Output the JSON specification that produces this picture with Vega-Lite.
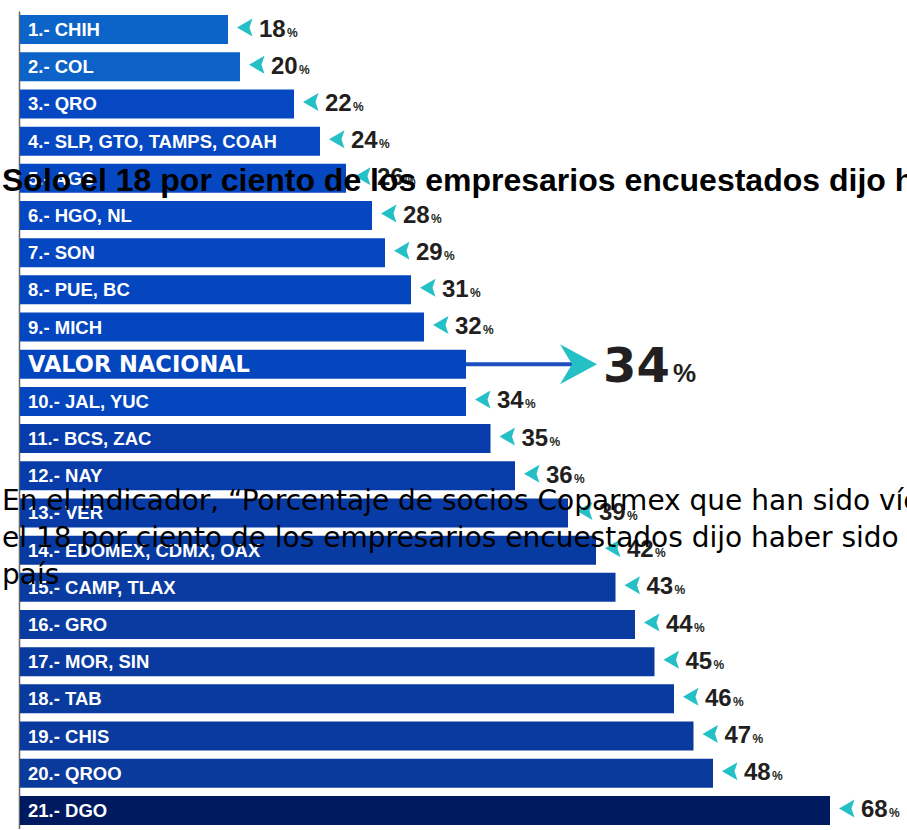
{
  "$schema": "https://vega.github.io/schema/vega-lite/v6.json",
  "width": 887,
  "height": 818,
  "autosize": "none",
  "padding": {"left": 20, "top": 11, "right": 0, "bottom": 0},
  "background": "#ffffff",
  "config": {"view": {"stroke": null}},
  "data": {
    "values": [
      {"etiqueta": "1.- CHIH", "valor": 18, "tipo": "estado"},
      {"etiqueta": "2.- COL", "valor": 20, "tipo": "estado"},
      {"etiqueta": "3.- QRO", "valor": 22, "tipo": "estado"},
      {"etiqueta": "4.- SLP, GTO, TAMPS, COAH", "valor": 24, "tipo": "estado"},
      {"etiqueta": "5.- AGS", "valor": 26, "tipo": "estado", "titulo": "Solo el 18 por ciento de los empresarios encuestados dijo haber sido"},
      {"etiqueta": "6.- HGO, NL", "valor": 28, "tipo": "estado"},
      {"etiqueta": "7.- SON", "valor": 29, "tipo": "estado"},
      {"etiqueta": "8.- PUE, BC", "valor": 31, "tipo": "estado"},
      {"etiqueta": "9.- MICH", "valor": 32, "tipo": "estado"},
      {"etiqueta": "VALOR NACIONAL", "valor": 34, "tipo": "nacional"},
      {"etiqueta": "10.- JAL, YUC", "valor": 34, "tipo": "estado"},
      {"etiqueta": "11.- BCS, ZAC", "valor": 35, "tipo": "estado"},
      {"etiqueta": "12.- NAY", "valor": 36, "tipo": "estado"},
      {"etiqueta": "13.- VER", "valor": 39, "tipo": "estado", "parrafo": "En el indicador, “Porcentaje de socios Coparmex que han sido víctimas"},
      {"etiqueta": "14.- EDOMEX, CDMX, OAX", "valor": 42, "tipo": "estado", "parrafo": "el 18 por ciento de los empresarios encuestados dijo haber sido"},
      {"etiqueta": "15.- CAMP, TLAX", "valor": 43, "tipo": "estado", "parrafo": "país"},
      {"etiqueta": "16.- GRO", "valor": 44, "tipo": "estado"},
      {"etiqueta": "17.- MOR, SIN", "valor": 45, "tipo": "estado"},
      {"etiqueta": "18.- TAB", "valor": 46, "tipo": "estado"},
      {"etiqueta": "19.- CHIS", "valor": 47, "tipo": "estado"},
      {"etiqueta": "20.- QROO", "valor": 48, "tipo": "estado"},
      {"etiqueta": "21.- DGO", "valor": 68, "tipo": "estado"}
    ]
  },
  "encoding": {
    "y": {
      "field": "etiqueta",
      "type": "nominal",
      "sort": null,
      "scale": {"paddingInner": 0.22, "paddingOuter": 0.11},
      "axis": {"title": null, "labels": false, "ticks": false, "domain": true, "domainColor": "#666666", "domainWidth": 1.5, "offset": 1, "grid": false}
    }
  },
  "layer": [
    {
      "mark": {"type": "bar"},
      "encoding": {
        "x": {
          "field": "valor",
          "type": "quantitative",
          "scale": {
            "domain": [0, 18, 20, 22, 32, 34, 36, 39, 42, 48, 68],
            "range": [0, 208, 220, 274, 404, 446, 495, 548, 576, 693, 810],
            "nice": false,
            "zero": false
          },
          "axis": null
        },
        "color": {
          "field": "valor",
          "type": "quantitative",
          "scale": {
            "domain": [18, 20, 22, 34, 35, 48, 68],
            "range": ["#0c64c8", "#0c62c6", "#0548c2", "#0446be", "#073caa", "#0a3a9c", "#001a60"]
          },
          "legend": null
        }
      }
    },
    {
      "transform": [{"filter": "datum.tipo == 'estado'"}],
      "mark": {"type": "text", "align": "left", "baseline": "alphabetic", "dx": 8, "dy": 6.5, "font": "Liberation Sans", "fontWeight": "bold", "fontSize": 18.5, "color": "#ffffff"},
      "encoding": {"x": {"datum": 0, "type": "quantitative"}, "text": {"field": "etiqueta"}}
    },
    {
      "transform": [{"filter": "datum.tipo == 'nacional'"}],
      "mark": {"type": "text", "align": "left", "baseline": "alphabetic", "dx": 8, "dy": 8, "font": "DejaVu Sans", "fontWeight": "bold", "fontSize": 22.5, "color": "#ffffff"},
      "encoding": {"x": {"datum": 0, "type": "quantitative"}, "text": {"field": "etiqueta"}}
    },
    {
      "transform": [{"filter": "datum.tipo == 'estado'"}],
      "mark": {"type": "point", "filled": true, "opacity": 1, "size": 100, "strokeWidth": 0, "color": "#25c0c6", "shape": "M 4.9,-2.2 L 1.8,-0.4 L 4.9,1.4 L 4.3,-0.4 Z"},
      "encoding": {"x": {"field": "valor", "type": "quantitative"}}
    },
    {
      "transform": [{"filter": "datum.tipo == 'estado'"}],
      "mark": {"type": "text", "align": "left", "baseline": "alphabetic", "dx": 31, "dy": 7, "font": "Liberation Sans", "fontWeight": "bold", "fontSize": 24, "color": "#231f20"},
      "encoding": {"x": {"field": "valor", "type": "quantitative"}, "text": {"field": "valor"}}
    },
    {
      "transform": [{"filter": "datum.tipo == 'estado'"}],
      "mark": {"type": "text", "align": "left", "baseline": "alphabetic", "dx": 59, "dy": 7, "font": "Liberation Sans", "fontWeight": "bold", "fontSize": 12, "color": "#231f20"},
      "encoding": {"x": {"field": "valor", "type": "quantitative"}, "text": {"value": "%"}}
    },
    {
      "transform": [{"filter": "datum.tipo == 'nacional'"}],
      "mark": {"type": "point", "filled": true, "opacity": 1, "size": 400, "strokeWidth": 0, "color": "#1d4fc0", "shape": "M 0,-0.2 L 10.7,-0.2 L 10.7,0.2 L 0,0.2 Z"},
      "encoding": {"x": {"field": "valor", "type": "quantitative"}}
    },
    {
      "transform": [{"filter": "datum.tipo == 'nacional'"}],
      "mark": {"type": "point", "filled": true, "opacity": 1, "size": 400, "strokeWidth": 0, "color": "#25c0c6", "shape": "M 9.4,-2 L 13.1,0 L 9.4,2 L 10.6,0 Z"},
      "encoding": {"x": {"field": "valor", "type": "quantitative"}}
    },
    {
      "transform": [{"filter": "datum.tipo == 'nacional'"}],
      "mark": {"type": "text", "align": "left", "baseline": "alphabetic", "dx": 137, "dy": 18, "font": "DejaVu Sans", "fontWeight": "bold", "fontSize": 48, "color": "#231f20"},
      "encoding": {"x": {"field": "valor", "type": "quantitative"}, "text": {"field": "valor"}}
    },
    {
      "transform": [{"filter": "datum.tipo == 'nacional'"}],
      "mark": {"type": "text", "align": "left", "baseline": "alphabetic", "dx": 207, "dy": 18, "font": "Liberation Sans", "fontWeight": "bold", "fontSize": 26, "color": "#231f20"},
      "encoding": {"x": {"field": "valor", "type": "quantitative"}, "text": {"value": "%"}}
    },
    {
      "transform": [{"filter": "datum.titulo != null"}],
      "mark": {"type": "text", "align": "left", "baseline": "alphabetic", "dx": -18, "dy": 13, "font": "Liberation Sans", "fontWeight": "bold", "fontSize": 32, "color": "#000000"},
      "encoding": {"x": {"datum": 0, "type": "quantitative"}, "text": {"field": "titulo"}}
    },
    {
      "transform": [{"filter": "datum.parrafo != null"}],
      "mark": {"type": "text", "align": "left", "baseline": "alphabetic", "dx": -18, "dy": -3, "font": "DejaVu Sans", "fontSize": 28, "color": "#000000"},
      "encoding": {"x": {"datum": 0, "type": "quantitative"}, "text": {"field": "parrafo"}}
    }
  ]
}
